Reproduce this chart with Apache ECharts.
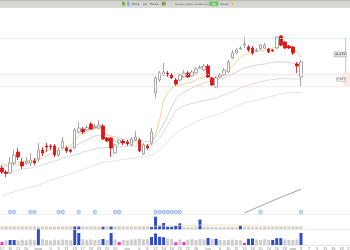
<!DOCTYPE html>
<html><head><meta charset="utf-8">
<script src="https://cdn.jsdelivr.net/npm/echarts@6/dist/echarts.min.js"></script>
<style>html,body{margin:0;padding:0;background:#fff;overflow:hidden}#c{width:350px;height:250px}</style>
</head><body><div id="c"></div>
<script>
// ---------- data ----------
const categories = [
 '17','18','19','20','21','24','26','27','28',
 'mag','3','4','5','8','9','10','11','12','15','16','17','18','19','22','23','24','25','26','29','30','31',
 'giu','2','5','6','7','8','9','12','13','14','15','16','19','20','21','22','23','26','29','30',
 'lug','4','5','6','7','10','11','12','13','14','17','18','19','20','21','24','25','26','27','28','31',
 'ago','2','3','4','7','8','9','10','11','14','16','17','18','21','22'
];
const monthLabels = ['mag','giu','lug','ago'];
// [open, close, low, high]
const candles = [
 [1.155,1.145,1.140,1.1625],[1.145,1.1413,1.1325,1.150],[1.1425,1.1675,1.140,1.1825],[1.1675,1.1875,1.1625,1.200],
 [1.195,1.1825,1.175,1.205],[1.170,1.160,1.1525,1.180],[1.1675,1.1725,1.1625,1.1825],[1.1675,1.175,1.160,1.1925],
 [1.1725,1.1675,1.1625,1.180],[1.1775,1.200,1.170,1.2175],[1.200,1.1925,1.185,1.2075],[1.210,1.2075,1.195,1.2175],
 [1.210,1.2075,1.200,1.215],[1.210,1.1875,1.1825,1.215],[1.1875,1.200,1.1825,1.205],[1.205,1.2225,1.2025,1.2325],
 [1.205,1.1975,1.1925,1.210],[1.200,1.1963,1.1925,1.2025],[1.205,1.250,1.2025,1.255],[1.245,1.255,1.240,1.270],
 [1.2525,1.245,1.240,1.2575],[1.250,1.2563,1.2475,1.2625],[1.265,1.2525,1.250,1.270],[1.2563,1.2588,1.2525,1.265],
 [1.255,1.2625,1.2525,1.275],[1.260,1.2275,1.225,1.265],[1.230,1.2225,1.220,1.2325],[1.230,1.205,1.1825,1.2325],
 [1.1925,1.2125,1.190,1.215],[1.2175,1.225,1.2125,1.2275],[1.2225,1.2175,1.2125,1.2275],[1.220,1.215,1.210,1.225],
 [1.2125,1.2275,1.210,1.2325],[1.225,1.2325,1.2225,1.2475],[1.225,1.1975,1.195,1.230],[1.190,1.2125,1.1875,1.2175],
 [1.210,1.205,1.200,1.215],[1.2175,1.245,1.2125,1.255],[1.3425,1.380,1.330,1.385],[1.375,1.3925,1.370,1.3975],
 [1.3875,1.395,1.385,1.4175],[1.3925,1.3875,1.3825,1.3975],[1.3875,1.380,1.3775,1.3925],[1.375,1.365,1.360,1.380],
 [1.375,1.3875,1.3725,1.3925],[1.3825,1.3925,1.380,1.400],[1.3925,1.3825,1.380,1.3975],[1.385,1.395,1.3825,1.400],
 [1.3925,1.4025,1.390,1.4075],[1.405,1.4075,1.4025,1.4125],[1.400,1.410,1.3975,1.415],[1.410,1.3825,1.380,1.415],
 [1.380,1.3625,1.360,1.3825],[1.3575,1.380,1.355,1.385],[1.3825,1.3875,1.380,1.3925],[1.3875,1.400,1.385,1.405],
 [1.395,1.420,1.3925,1.425],[1.430,1.4425,1.4275,1.450],[1.4425,1.450,1.440,1.455],[1.4525,1.455,1.450,1.460],
 [1.4625,1.465,1.455,1.4825],[1.4575,1.450,1.445,1.4625],[1.455,1.4425,1.4375,1.460],[1.4475,1.450,1.445,1.455],
 [1.4525,1.4625,1.450,1.465],[1.455,1.4625,1.4525,1.4675],[1.4525,1.445,1.4425,1.455],[1.450,1.4475,1.445,1.4525],
 [1.455,1.4825,1.4525,1.485],[1.485,1.4625,1.460,1.4875],[1.470,1.455,1.4525,1.4725],[1.460,1.455,1.4525,1.4625],
 [1.4575,1.4425,1.4375,1.460],[1.415,1.410,1.3925,1.420],[1.3825,1.420,1.360,1.425]
];
const ma5 = [1.1675,1.1625,1.160,1.165,1.170,1.170,1.1725,1.1725,1.175,1.180,1.190,1.1975,1.2025,1.205,1.205,1.2075,1.2075,1.210,1.225,1.235,
 1.240,1.245,1.250,1.2538,1.255,1.245,1.2375,1.2275,1.2225,1.220,1.220,1.220,1.220,1.220,1.215,1.2125,1.2125,1.2175,1.240,1.275,
 1.325,1.3425,1.355,1.360,1.3625,1.365,1.3675,1.370,1.375,1.380,1.3825,1.3825,1.380,1.380,1.385,1.3925,1.400,1.410,1.420,1.430,
 1.4375,1.440,1.4438,1.4463,1.4475,1.450,1.4525,1.455,1.4575,1.460,1.4613,1.460,1.455,1.445,1.4325];
const ma10 = [1.160,1.160,1.160,1.1625,1.1625,1.165,1.1675,1.170,1.1725,1.175,1.180,1.185,1.190,1.195,1.1975,1.200,1.2025,1.205,1.210,1.215,
 1.220,1.225,1.230,1.235,1.2375,1.2375,1.2375,1.235,1.2325,1.230,1.2275,1.225,1.225,1.225,1.2225,1.2225,1.220,1.2225,1.2325,1.2475,
 1.265,1.285,1.3075,1.3275,1.3375,1.345,1.350,1.355,1.360,1.3625,1.3675,1.370,1.3725,1.375,1.3775,1.380,1.385,1.390,1.395,1.400,
 1.405,1.4075,1.410,1.4125,1.4138,1.415,1.4175,1.4188,1.420,1.420,1.420,1.4188,1.4175,1.415,1.4125];
const ma20 = [1.1425,1.1438,1.145,1.1475,1.150,1.1525,1.1538,1.155,1.1575,1.160,1.1625,1.165,1.170,1.1725,1.175,1.180,1.1825,1.185,1.1875,1.190,
 1.195,1.1975,1.200,1.2025,1.205,1.205,1.2063,1.2063,1.2075,1.2075,1.2088,1.2088,1.210,1.210,1.210,1.2113,1.2125,1.2125,1.220,1.230,
 1.245,1.2625,1.2825,1.2975,1.305,1.310,1.3138,1.3163,1.3188,1.3213,1.3238,1.325,1.3275,1.330,1.3338,1.3375,1.3413,1.345,1.350,1.355,
 1.3588,1.3625,1.365,1.3675,1.370,1.3725,1.375,1.3763,1.3775,1.3788,1.3788,1.3788,1.3775,1.3775,1.3763];
const ma50 = [1.085,1.0888,1.0925,1.095,1.0988,1.1013,1.105,1.1075,1.110,1.1125,1.115,1.120,1.125,1.1275,1.130,1.1338,1.1375,1.140,1.1438,1.1475,
 1.150,1.155,1.1588,1.1625,1.1675,1.1688,1.170,1.1713,1.1725,1.175,1.1763,1.1775,1.1788,1.180,1.1813,1.1825,1.185,1.1875,1.1925,1.200,
 1.210,1.220,1.2325,1.2425,1.250,1.255,1.260,1.265,1.270,1.275,1.2788,1.2825,1.285,1.2875,1.2913,1.295,1.300,1.305,1.310,1.3138,
 1.3175,1.320,1.3225,1.325,1.3275,1.330,1.3325,1.335,1.3375,1.340,1.3413,1.3425,1.3438,1.3438,1.3438];
const vol1 = [26,24,25,27,23,22,24,21,25,23,22,24,21,23,25,22,24,21,33,33,
 25,22,24,23,21,27,24,33,23,24,22,21,23,22,25,24,22,25,126,36,
 63,26,26,36,60,24,22,21,23,98,25,23,24,22,21,23,22,24,21,33,
 22,24,21,23,22,25,21,22,24,23,21,22,24,23,26];
const vol1Avg = [26,26,26,26,25,25,25,25,25,25,25,25,24,24,24,24,24,24,25,26,
 26,26,26,26,26,26,26,27,27,27,27,26,26,26,26,26,25,25,30,31,
 34,34,35,36,38,38,38,38,38,42,42,42,42,42,42,41,41,41,40,41,
 36,36,35,35,34,33,30,30,30,29,29,29,29,29,29];
const vol1Hi = [18,19,25,27,37,38,39,40,41,42,43,44,49,59];
const vol2 = [30,48,50,50,45,52,47,55,49,158,58,50,46,53,48,55,52,47,150,120,
 58,52,55,49,53,60,51,120,56,30,50,47,55,58,62,55,60,80,115,82,
 78,65,60,28,55,30,52,58,50,60,55,70,62,62,50,48,52,55,50,48,
 22,62,65,55,50,58,52,50,68,68,55,52,50,56,120];
const vol2Hi = [2,3,9,18,19,25,27,37,38,39,40,51,53,61,62,67,68,69,74];
const vol2Lo = [0,29,43,45,60];
const events = [2,3,7,8,14,15,19,23,28,29,38,39,40,41,42,43,44,64,74];
const trendFrom = 60;
const trend = [1,2.8,4.6,6.3,8,9.8,11.6,13.3,15,16.7,18.3,19.9,21.5,23.1,24.7];
const refLevels = [1.48, 1.3943, 1.3583];
const priceTags = [{value:1.4388, text:'1,439'}, {value:1.3768, text:'1,377'}];

// ---------- chart ----------
const chart = echarts.init(document.getElementById('c'));
const W = 351.5;
const BLUE = '#2f4ec6', GRAY = '#cdcdcd', MAG = '#ff2fc6';
const monthIdx = categories.map((c,i)=>monthLabels.includes(c)?i:-1).filter(i=>i>=0);
function grid(top, height){ return {left:0, top, width:W, height, containLabel:false, outerBoundsMode:'none'}; }
function line(data, color){
  return {type:'line', xAxisIndex:0, yAxisIndex:0, data, showSymbol:false, symbol:'none',
    lineStyle:{color, width:1}, silent:true, z:1, label:{show:false}};
}
const hiddenLabel = {show:false, formatter:()=> '', fontSize:1, color:'rgba(0,0,0,0)'};
chart.setOption({
  animation:false,
  backgroundColor:'#ffffff',
  grid:[grid(8,197), grid(214,15.3), grid(229.2,15.8)],
  xAxis:[0,1,2].map(g=>({type:'category', gridIndex:g, data:categories, show:g===2, boundaryGap:true,
    axisLine:{show:false}, axisTick:{show:false}, splitLine:{show:false},
    axisLabel: g===2 ? {fontSize:4, color:'#888', margin:1.5,
      interval:(i,v)=> monthLabels.includes(v) || (i%2===0 && !monthIdx.some(m=>Math.abs(m-i)<=1))} : hiddenLabel})),
  yAxis:[
    {type:'value', gridIndex:0, min:1.0625, max:1.555, show:false},
    {type:'value', gridIndex:1, min:0, max:153, show:false},
    {type:'value', gridIndex:2, min:0, max:158, show:false},
    {type:'value', gridIndex:1, min:-15.3, max:0, show:false}
  ],
  series:[
    line(ma50,'#e4e4e4'), line(ma20,'#dbdbdb'), line(ma10,'#d4d4d4'), line(ma5,'#f6d294'),
    {type:'candlestick', xAxisIndex:0, yAxisIndex:0, data:candles, barWidth:3, z:3,
      itemStyle:{color:'#ffffff', color0:'#ee1111', borderColor:'#909090', borderColor0:'#cc1515', borderWidth:0.8},
      markLine:{silent:true, symbol:['none','none'], label:{show:false},
        data: refLevels.map((v,k)=>({yAxis:v, label:{show:false},
          lineStyle:{color: k===0 ? '#d2eae4' : '#f6d3d3', type:'dotted', width:1}}))}
    },
    {type:'line', xAxisIndex:1, yAxisIndex:3, showSymbol:false, symbol:'none', z:2, clip:false, label:{show:false},
      data: categories.map((_,i)=> (i>=trendFrom && i-trendFrom<trend.length) ? trend[i-trendFrom] : null),
      lineStyle:{color:'#a0a0a0', width:1}},
    {type:'scatter', xAxisIndex:1, yAxisIndex:3, z:4, symbolSize:3.6, clip:false, label:{show:false},
      data: events.map(i=>[i,2]),
      itemStyle:{color:'#bcd2f8', borderColor:'#6a90de', borderWidth:0.6}},
    {type:'bar', xAxisIndex:1, yAxisIndex:1, barWidth:3, z:2,
      data: vol1.map((v,i)=>({value:v, itemStyle:{color: vol1Hi.includes(i)?BLUE:GRAY}}))},
    {type:'line', xAxisIndex:1, yAxisIndex:1, data:vol1Avg, showSymbol:false, symbol:'none', z:3,
      lineStyle:{color:'#f3d7b3', width:0.8}},
    {type:'bar', xAxisIndex:2, yAxisIndex:2, barWidth:3, z:2,
      data: vol2.map((v,i)=>({value:v, itemStyle:{color: vol2Hi.includes(i)?BLUE:(vol2Lo.includes(i)?MAG:GRAY)}}))}
  ]
});

function py(v){ return chart.convertToPixel({yAxisIndex:0}, v); }
const g = [];
g.push({type:'rect', shape:{x:0,y:0,width:350,height:7.2}, style:{fill:'#d6d6d6'}, z:10});
g.push({type:'rect', shape:{x:0,y:0,width:350,height:1.2}, style:{fill:'#bdbdb4'}, z:10});
g.push({type:'rect', shape:{x:0,y:7.2,width:350,height:0.5}, style:{fill:'#c2c2c2'}, z:10});
g.push({type:'rect', shape:{x:122,y:2,width:3,height:3.6}, style:{fill:'#6bb84c'}, z:11});
g.push({type:'rect', shape:{x:127.3,y:1.8,width:2,height:4}, style:{fill:'#7b98dc'}, z:11});
const tb = [[132,'Barre'],[143,'1G'],[150,'Medie'],[175,'ANALISI TECNICA AUTOMATICA'],[220.5,'Avvisi']];
tb.forEach(([x,t],k)=>g.push({type:'text', x, y:4.2, z:11,
  style:{text:t, fontSize: k===3?2.2:2.8, fill:'#444', verticalAlign:'middle', fontFamily:'DejaVu Sans'}}));
g.push({type:'rect', shape:{x:161.5,y:1.8,width:4.5,height:3.8}, style:{fill:'#c9a24a'}, z:11});
g.push({type:'rect', shape:{x:162.3,y:2.5,width:2.8,height:2.4}, style:{fill:'#5fae5a'}, z:11});
g.push({type:'rect', shape:{x:209.3,y:1.6,width:9,height:4.2}, style:{fill:'#5ac95a'}, z:11});
g.push({type:'text', x:213.8, y:3.8, z:12, style:{text:'ON', fontSize:2.8, fill:'#fff', align:'center', verticalAlign:'middle', fontFamily:'DejaVu Sans'}});
g.push({type:'circle', shape:{cx:232.5,cy:3.8,r:1.2}, style:{fill:'#f0c21a'}, z:11});
[214.5, 229.5].forEach(y=>g.push({type:'line', shape:{x1:0,y1:y,x2:350,y2:y}, style:{stroke:'#e4e4e4', lineWidth:0.6}, z:1}));
g.push({type:'line', shape:{x1:0,y1:245.3,x2:350,y2:245.3}, style:{stroke:'#d4d4d4', lineWidth:0.6}, z:1});
const yA = py(refLevels[0]), yB = py(refLevels[1]), yC = py(refLevels[2]);
g.push({type:'rect', shape:{x:343,y:yB,width:7,height:yC-yB}, style:{fill:'#fde8e8'}, z:5});
g.push({type:'line', shape:{x1:345.6,y1:yA,x2:345.6,y2:yB}, style:{stroke:'#b0dcb0', lineWidth:1}, z:5});
priceTags.forEach((p,k)=>{
  const y = py(p.value);
  const x = k===0 ? 334 : 336.5, w = k===0 ? 12.5 : 9, h = k===0 ? 5 : 4;
  g.push({type:'rect', shape:{x, y:y-h/2, width:w, height:h},
    style:{fill: k===0?'#e3e3e3':'#f6f6f6', stroke:'#9a9a9a', lineWidth:0.5}, z:6});
  g.push({type:'text', x:x+w/2, y, z:7,
    style:{text:(k===0?'◂':'')+p.text, fontSize:k===0?3.2:2.8, fill:'#333', align:'center', verticalAlign:'middle', fontFamily:'DejaVu Sans'}});
});
chart.setOption({graphic:g});
</script></body></html>
